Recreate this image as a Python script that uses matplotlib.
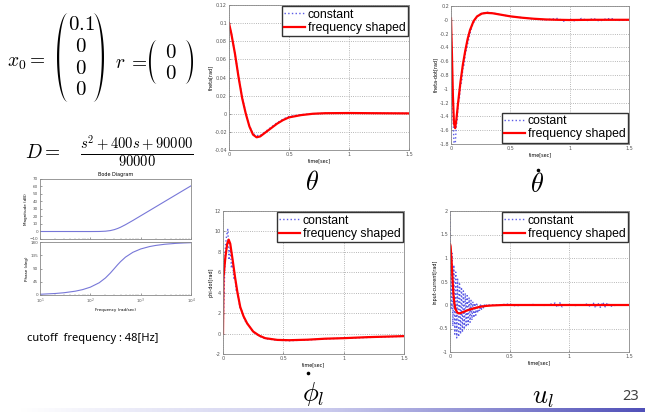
import numpy as np
import matplotlib.pyplot as plt
from matplotlib.colors import LinearSegmentedColormap
from matplotlib.ticker import FuncFormatter

plt.rcParams['mathtext.fontset'] = 'cm'

# theta
t_th = [0, 0.02, 0.05, 0.08, 0.11, 0.14, 0.17, 0.20, 0.23, 0.26, 0.30, 0.35,
        0.40, 0.45, 0.50, 0.60, 0.70, 0.80, 1.00, 1.20, 1.50]
th_const = [0.1, 0.088, 0.066, 0.041, 0.018, 0.001, -0.013, -0.022, -0.024, -0.024,
            -0.020, -0.015, -0.010, -0.006, -0.003, -0.001, 0.0, 0.0005, 0.0008, 0.0006, 0.0004]
th_shaped = [0.1, 0.088, 0.066, 0.040, 0.017, 0.000, -0.014, -0.023, -0.026, -0.025,
             -0.021, -0.016, -0.011, -0.007, -0.004, -0.0015, 0.0, 0.0006, 0.0008, 0.0006, 0.0004]

# theta-dot
t_thd_c = [0, 0.008, 0.016, 0.024, 0.03, 0.036, 0.044, 0.052, 0.06, 0.07, 0.08, 0.09,
           0.10, 0.11, 0.12, 0.14, 0.16, 0.18, 0.21, 0.25, 0.30, 0.35, 0.40, 0.50,
           0.60, 0.70, 0.80, 0.90, 0.95, 1.0, 1.05, 1.1, 1.15, 1.2, 1.25, 1.3, 1.35, 1.4, 1.5]
thd_const = [0.0, -0.6, -1.3, -1.75, -1.9, -1.8, -1.55, -1.45, -1.2, -1.15, -0.95, -0.9,
             -0.7, -0.65, -0.5, -0.35, -0.2, -0.08, 0.03, 0.09, 0.11, 0.1, 0.08, 0.05,
             0.03, 0.01, 0.0, 0.02, -0.02, 0.01, -0.02, 0.02, -0.01, 0.02, -0.02, 0.01, 0.02, -0.01, 0.0]
t_thd_s = [0, 0.008, 0.016, 0.025, 0.035, 0.045, 0.06, 0.08, 0.10, 0.12, 0.14, 0.16,
           0.19, 0.22, 0.26, 0.30, 0.35, 0.40, 0.50, 0.60, 0.70, 0.80, 0.90, 1.0, 1.2, 1.5]
thd_shaped = [0.02, -0.5, -1.1, -1.5, -1.57, -1.45, -1.2, -0.9, -0.65, -0.45, -0.28, -0.15,
              -0.02, 0.05, 0.09, 0.1, 0.095, 0.08, 0.05, 0.03, 0.015, 0.005, 0.0, -0.003, 0.0, 0.0]

# phi_l-dot
t_phd_c = [0, 0.01, 0.02, 0.03, 0.04, 0.05, 0.06, 0.07, 0.08, 0.09, 0.10, 0.11, 0.12,
           0.14, 0.16, 0.18, 0.20, 0.25, 0.30, 0.35, 0.45, 0.55, 0.70, 0.85, 1.0,
           1.1, 1.2, 1.3, 1.4, 1.5]
phd_const = [0, 4.5, 8.6, 9.6, 10.2, 7.2, 8.4, 6.4, 7.1, 5.3, 5.6, 4.1, 4.0,
             2.6, 2.1, 1.3, 1.0, 0.15, -0.25, -0.5, -0.65, -0.7, -0.62, -0.52, -0.45,
             -0.42, -0.38, -0.35, -0.3, -0.27]
t_phd_s = [0, 0.004, 0.02, 0.035, 0.047, 0.06, 0.08, 0.10, 0.12, 0.143, 0.17, 0.20,
           0.25, 0.30, 0.35, 0.45, 0.55, 0.70, 0.85, 1.0, 1.2, 1.5]
phd_shaped = [0, 5.5, 7.5, 8.8, 9.2, 8.8, 7.2, 5.5, 4.0, 2.6, 1.7, 1.0,
              0.2, -0.2, -0.45, -0.62, -0.65, -0.6, -0.5, -0.45, -0.35, -0.25]

# u_l
u_const_head = [2.0, -0.1, 1.1, -0.45, 0.85, -0.62, 0.7, -0.7, 0.55, -0.68, 0.45,
                -0.62, 0.38, -0.58, 0.3, -0.52, 0.25, -0.47, 0.2, -0.42, 0.15, -0.37,
                0.1, -0.32, 0.07, -0.27, 0.04, -0.22, 0.02, -0.17, 0.0, -0.13, 0.0,
                -0.09, 0.0, -0.06, 0.0, -0.04, 0.0, -0.02, 0.0]
t_u_tail = [0.4, 0.5, 0.55, 0.6, 0.7, 0.8, 0.88, 0.9, 0.92, 0.94, 0.96, 1.0, 1.05,
            1.1, 1.15, 1.18, 1.2, 1.22, 1.24, 1.26, 1.28, 1.3, 1.32, 1.34, 1.4, 1.5]
u_const_tail = [0, 0.02, -0.02, 0.0, 0.01, -0.01, 0.04, -0.05, 0.05, -0.04, 0.0, 0.01,
                -0.01, 0.0, 0.02, -0.04, 0.05, -0.06, 0.04, -0.05, 0.06, -0.04, 0.05,
                -0.03, 0.0, 0.0]
t_u_s = [0, 0.005, 0.012, 0.02, 0.028, 0.036, 0.045, 0.06, 0.075, 0.09, 0.12, 0.15,
         0.2, 0.25, 0.3, 0.35, 0.45, 0.6, 0.8, 1.0, 1.2, 1.5]
u_shaped = [1.3, 1.25, 1.0, 0.6, 0.25, 0.05, -0.08, -0.16, -0.18, -0.17, -0.14, -0.11,
            -0.07, -0.04, -0.02, -0.01, 0.0, 0.0, 0.0, 0.0, 0.0, 0.0]

# bode of D(s)
bode_w = [10, 20, 30, 50, 70, 100, 150, 200, 250, 300, 350, 400, 500, 700, 1000,
          1500, 2000, 3000, 5000, 7000, 10000]
bode_mag = [0.0, 0.0, -0.01, -0.02, -0.04, -0.05, 0.03, 0.41, 1.23, 2.5, 4.07, 5.76,
            9.1, 14.69, 20.9, 27.93, 32.94, 40.0, 48.87, 54.72, 60.9]
bode_phase = [2.5, 5.1, 7.7, 12.9, 18.2, 26.6, 41.6, 58.0, 74.6, 90.0, 103.1, 113.6,
              128.7, 145.0, 156.3, 164.5, 168.4, 172.3, 175.4, 176.7, 177.7]

W, H = 645, 412
fig = plt.figure(figsize=(6.45, 4.12), dpi=100)


def box(l, t, r, b):
    return [l / W, 1 - b / H, (r - l) / W, (b - t) / H]


bg = fig.add_axes([0, 0, 1, 1])
bg.set_xlim(0, W)
bg.set_ylim(H, 0)
bg.axis('off')


def paren(x0, x1, y0, y1, left=True, thick=2.2):
    # crescent-shaped bracket
    phi = np.linspace(-np.pi / 2, np.pi / 2, 60)
    yc, hh = (y0 + y1) / 2, (y1 - y0) / 2
    w = x1 - x0
    ys = yc + hh * np.sin(phi)
    if left:
        outer = x1 - w * np.cos(phi)
        inner = x1 - (w - thick) * np.cos(phi)
    else:
        outer = x0 + w * np.cos(phi)
        inner = x0 + (w - thick) * np.cos(phi)
    bg.fill(np.r_[outer, inner[::-1]], np.r_[ys, ys[::-1]], color='black', lw=0)


def dot(x, y):
    # time-derivative accent
    bg.plot([x], [y], 'o', ms=2.6, color='black', mew=0)


mfs = 15
bg.text(7, 62, r'$x_0 =$', fontsize=14, va='center', ha='left')
paren(57, 68, 13, 102, left=True)
paren(93, 104, 13, 102, left=False)
for yy, s in zip([24, 46, 68, 89], ['0.1', '0', '0', '0']):
    bg.text(81, yy, '$%s$' % s, fontsize=mfs, ha='center', va='center')
bg.text(115, 62, r'$r$', fontsize=14, va='center', ha='left')
bg.text(128, 62, r'$=$', fontsize=14, va='center', ha='left')
paren(149, 157, 40, 84, left=True, thick=1.8)
paren(185, 193, 40, 84, left=False, thick=1.8)
for yy in [52, 73]:
    bg.text(171, yy, '$0$', fontsize=mfs, ha='center', va='center')
bg.text(25, 153, r'$D =$', fontsize=14, va='center', ha='left')
bg.text(80, 152, r'$\frac{s^2+400s+90000}{90000}$', fontsize=15, va='center', ha='left')

bg.text(27, 338, 'cutoff  frequency : 48[Hz]', fontsize=8, family='Noto Sans', va='center')

bg.text(312, 183, r'$\theta$', fontsize=19, ha='center', va='center')
bg.text(537, 185, r'$\theta$', fontsize=19, ha='center', va='center')
dot(538, 170)
bg.text(313, 394, r'$\phi_l$', fontsize=19, ha='center', va='center')
dot(308, 373)
bg.text(543, 397, r'$u_l$', fontsize=19, ha='center', va='center')
bg.text(631, 397, '23', fontsize=10.5, family='Noto Sans', color='#404040', ha='center', va='center')

# footer bar
grad = np.linspace(0, 1, 256).reshape(1, -1)
cmap = LinearSegmentedColormap.from_list('bar', ['white', '#c8c8ec', '#5050b8'])
bg.imshow(grad, cmap=cmap, extent=[20, W, H, 408.5], aspect='auto')
bg.set_xlim(0, W)
bg.set_ylim(H, 0)

gfmt = FuncFormatter(lambda v, p: '%g' % round(v, 6))
tiny = 3.5


def style(ax):
    ax.tick_params(labelsize=tiny, direction='in', length=1.5, width=0.4,
                   colors='#555555', pad=1.5)
    for s in ax.spines.values():
        s.set_color('#888888')
        s.set_linewidth(0.6)


def time_plot(rect, tc, yc, ts, ys, ylim, yticks, ylabel, loc, const_label='constant'):
    ax = fig.add_axes(box(*rect))
    ax.plot(tc, yc, color='#5a5ae6', ls=':', lw=1.0, label=const_label)
    ax.plot(ts, ys, color='red', lw=1.6, label='frequency shaped')
    ax.set_xlim(0, 1.5)
    ax.set_ylim(ylim)
    ax.set_xticks([0, 0.5, 1, 1.5])
    ax.set_yticks(yticks)
    ax.xaxis.set_major_formatter(gfmt)
    ax.yaxis.set_major_formatter(gfmt)
    ax.grid(True, ls=':', color='#a0a0a0', lw=0.6)
    style(ax)
    ax.set_xlabel('time[sec]', fontsize=tiny, labelpad=1)
    ax.set_ylabel(ylabel, fontsize=tiny, labelpad=1)
    ax.legend(loc=loc, prop={'family': 'Liberation Sans', 'size': 8.8},
              handlelength=1.7, handletextpad=0.2, borderpad=0.2, labelspacing=0.1,
              fancybox=False, edgecolor='#333333', framealpha=1, borderaxespad=0.1)
    return ax


time_plot((229, 5, 409, 150), t_th, th_const, t_th, th_shaped, (-0.04, 0.12),
          np.arange(-0.04, 0.121, 0.02), 'theta[rad]', 'upper right')
time_plot((451, 6, 629, 144), t_thd_c, thd_const, t_thd_s, thd_shaped, (-1.8, 0.2),
          np.arange(-1.8, 0.21, 0.2), 'theta-dot[rad]', 'lower right', 'costant')
time_plot((223, 211, 404, 354), t_phd_c, phd_const, t_phd_s, phd_shaped, (-2, 12),
          np.arange(-2, 12.1, 2), 'phi-dot[rad]', 'upper right')
t_u_head = np.linspace(0, 0.32, len(u_const_head))
time_plot((450, 211, 629, 352), np.r_[t_u_head, t_u_tail], u_const_head + u_const_tail,
          t_u_s, u_shaped, (-1, 2), np.arange(-1, 2.01, 0.5), 'input-current[rad]',
          'upper right')

# bode diagram
bc = '#7777d8'
axm = fig.add_axes(box(40, 179, 191, 239))
axm.semilogx(bode_w, bode_mag, color=bc, lw=0.8)
axm.set_xlim(10, 1e4)
axm.set_ylim(-10, 70)
axm.set_yticks(range(-10, 71, 10))
axm.set_xticklabels([])
axm.set_title('Bode Diagram', fontsize=tiny, pad=2)
axm.set_ylabel('Magnitude (dB)', fontsize=3, labelpad=1)
style(axm)
axp = fig.add_axes(box(40, 242, 191, 295))
axp.semilogx(bode_w, bode_phase, color=bc, lw=0.8)
axp.set_xlim(10, 1e4)
axp.set_ylim(0, 180)
axp.set_yticks([0, 45, 90, 135, 180])
axp.set_ylabel('Phase (deg)', fontsize=3, labelpad=1)
axp.set_xlabel('Frequency (rad/sec)', fontsize=3, labelpad=1)
style(axp)
axm.tick_params(labelsize=3)
axp.tick_params(labelsize=3)
axp.tick_params(which='minor', direction='in', length=1, width=0.3, colors='#888888')
axm.tick_params(which='minor', direction='in', length=1, width=0.3, colors='#888888')

fig.savefig('out.png', dpi=100, facecolor='white')
